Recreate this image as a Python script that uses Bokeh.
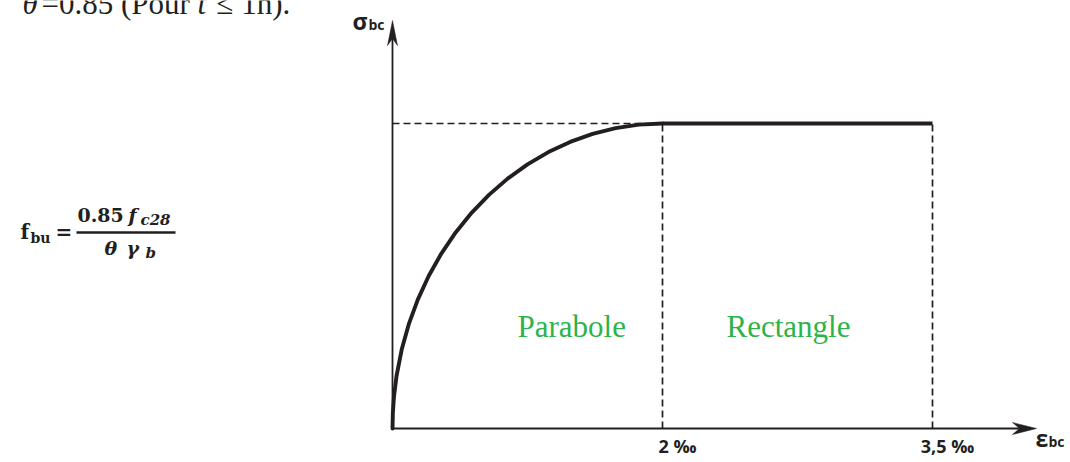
from bokeh.plotting import figure
from bokeh.models import Range1d
from bokeh.embed import file_html
from bokeh.resources import INLINE
from bokeh.core.properties import value

# ---------------- data (schematic units: strain axis position, stress / fbu) ----------------
strain_curve = [0.0, 0.00274, 0.01096, 0.0304, 0.0681, 0.1206, 0.1874, 0.2679, 0.3617, 0.4679,
                0.5858, 0.7144, 0.8528, 1.0, 1.1548, 1.316, 1.4824, 1.6527, 1.8257, 2.0]
stress_curve = [0.0, 0.0523, 0.1045, 0.1736, 0.2588, 0.342, 0.4226, 0.5, 0.5736, 0.6428,
                0.7071, 0.766, 0.8192, 0.866, 0.9063, 0.9397, 0.9659, 0.9848, 0.9962, 1.0]
strain_plateau = [2.0, 4.0]
stress_plateau = [1.0, 1.0]
fbu_level = 1.0
eps_tick_pos = [2.0, 4.0]
eps_tick_labels = ["2 ‰", "3,5 ‰"]
zone_labels = ["Parabole", "Rectangle"]

# ---------------- layout helpers (screen px -> data) ----------------
X0, KX = 392.0, 135.0
Y0, KY = 428.0, 305.0


def dx(sx):
    return (sx - X0) / KX


def dy(sy):
    return (Y0 - sy) / KY


W, H = 1070, 462
p = figure(width=W, height=H, output_backend="svg", toolbar_location=None,
           x_range=Range1d(dx(0), dx(W)), y_range=Range1d(dy(H), dy(0)),
           x_axis_type=None, y_axis_type=None, min_border=0)
p.grid.visible = False
p.outline_line_color = None
p.background_fill_color = "white"
p.border_fill_color = "white"

INK = "#231f20"
GREEN = "#2db34a"

# dashed guide lines
p.line([0, strain_plateau[0]], [fbu_level, fbu_level], line_color=INK, line_width=1.7, line_dash="7 4")
for xp in eps_tick_pos:
    p.line([xp, xp], [0, fbu_level], line_color=INK, line_width=1.7, line_dash="7 4")

# axes (arrows)
ytip = dy(20)
xtip = dx(1036)
p.line([0, 0], [0, ytip - 10 / KY], line_color=INK, line_width=1.8)
p.line([0, xtip - 10 / KX], [0, 0], line_color=INK, line_width=1.8)
p.patch([0, -5 / KX, 0, 5 / KX], [ytip, ytip - 25 / KY, ytip - 18 / KY, ytip - 25 / KY],
        fill_color=INK, line_color=INK, line_width=0.5)
p.patch([xtip, xtip - 24 / KX, xtip - 17 / KX, xtip - 24 / KX], [0, 6 / KY, 0, -6 / KY],
        fill_color=INK, line_color=INK, line_width=0.5)

# stress-strain law
p.line(strain_curve, stress_curve, line_color=INK, line_width=3.9, line_cap="round", line_join="round")
p.line(strain_plateau, stress_plateau, line_color=INK, line_width=3.9)

SANS = value("Open Sans")
SERIF = value("Liberation Serif")
MATH = value("DejaVu Serif")
# measured renderer shift of the alphabetic baseline (fraction of font size)
SHIFT = {"Open Sans": 0.39, "Liberation Serif": 0.34, "DejaVu Serif": 0.35}


def txt(sx, sy, s, font, size, style="normal", color=INK, align="left"):
    sy_adj = sy - SHIFT[font.value] * size
    p.text(x=[dx(sx)], y=[dy(sy_adj)], text=[s], text_font=font, text_font_size=f"{size}px",
           text_font_style=style, text_color=color, text_align=align,
           text_baseline="alphabetic")


# axis titles
txt(352, 29, "σ", SANS, 23, "bold")
txt(368, 29, "bc", SANS, 14, "bold")
txt(1035, 446, "ε", SANS, 23, "bold")
txt(1048, 446, "bc", SANS, 14, "bold")

# strain tick labels
lab_size = 18
p.text(x=[x + 15 / KX for x in eps_tick_pos], y=[dy(453 - SHIFT["Open Sans"] * lab_size)] * 2,
       text=eps_tick_labels, text_font=SANS, text_font_size=f"{lab_size}px",
       text_font_style="bold", text_color=INK, text_align="center", text_baseline="alphabetic")

# zone labels
txt(517, 337, zone_labels[0], SERIF, 31, color=GREEN)
txt(726, 337, zone_labels[1], SERIF, 31, color=GREEN)

# top text (partly cut)
txt(22, 14, "θ", SERIF, 31, "italic")
txt(41, 14, "=0.85 (Pour", SERIF, 31)
txt(197, 14, "t", SERIF, 31, "italic")
txt(216, 14, "≤ 1h).", SERIF, 31)

# formula f_bu = 0.85 f_c28 / (theta gamma_b)
txt(20, 238, "f", MATH, 20, "bold")
txt(30, 242, "bu", MATH, 14, "bold")
txt(55, 238, "=", MATH, 20, "bold")
txt(77, 221, "0.85", MATH, 19, "bold")
txt(128, 221, "f", MATH, 19, "bold italic")
txt(140, 225, "c28", MATH, 15, "bold italic")
p.line([dx(76), dx(175)], [dy(232), dy(232)], line_color=INK, line_width=2.5)
txt(104, 254, "θ", MATH, 19, "bold italic")
txt(126, 254, "γ", MATH, 19, "bold italic")
txt(145, 258, "b", MATH, 15, "bold italic")

open("out.html", "w").write(file_html(p, INLINE))
